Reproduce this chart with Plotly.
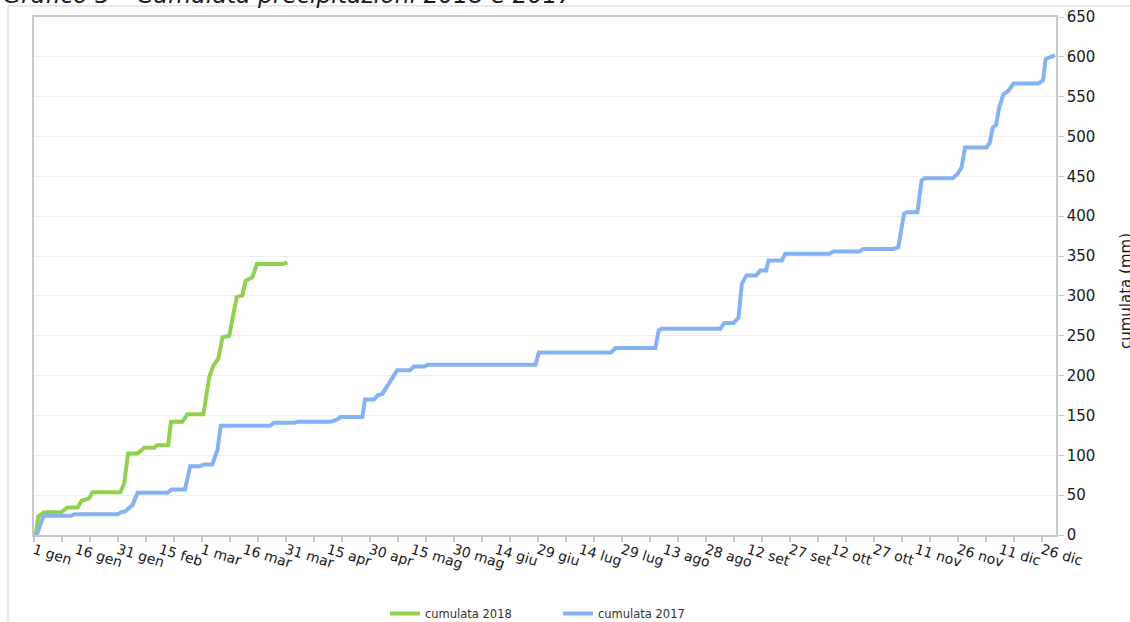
import plotly.graph_objects as go

# Day of year (0 = 1 gennaio) and cumulative precipitation (mm)
days_2018 = [0, 0.7, 1.5, 3.5, 9.6, 12, 15.6, 17, 19.7, 20.9, 30.8, 32.2, 33.6, 37, 39.4, 42.9,
             44, 47.9, 48.9, 53, 54.8, 60.5, 62.6, 64.1, 65.8, 67.3, 69.7, 72.4, 74.4, 75.6,
             78, 79.6, 88.7, 90.5]
cum_2018 = [0, 2, 23, 28.4, 28.4, 34.6, 34.6, 43, 46, 53.5, 53.5, 64.7, 102.3, 102.3, 109.4, 109.4,
            112.7, 112.7, 142, 142, 151.5, 151.5, 198, 213, 221, 248, 250, 298.5, 300.6, 319,
            323.5, 340, 340, 342]

days_2017 = [0, 1, 3.4, 13.2, 14.4, 29.9, 31.3, 32.5, 35.2, 37, 47.7, 49.1, 53.9, 55.8, 59, 61,
             63.7, 65.5, 66.7, 84.3, 85.7, 92.9, 94.1, 106, 108.3, 109.5, 117.3, 118.2, 121.4,
             122.8, 124.4, 125.8, 129.7, 134.2, 135.7, 139.5, 140.5, 179.1, 180.3, 206.1, 207.6,
             221.9, 223.1, 224.3, 245.1, 246.5, 249.8, 251.6, 252.8, 254.4, 257.9, 259.4, 261.5,
             262.3, 267.1, 268.3, 284.1, 285.5, 294.8, 296.2, 306.9, 308.7, 310.7, 311.7, 315.5,
             317, 318.2, 328.1, 329.8, 331.3, 332.5, 340.2, 341.4, 342.4, 343.6, 344.7, 346.2,
             348, 349.8, 358.7, 360.4, 361.3, 363.4, 364.6]
cum_2017 = [0, 0, 24, 24, 26, 26, 29, 29.5, 37.6, 53, 53, 57.2, 57.2, 86.4, 86.4, 88.5,
            88.5, 106.5, 137, 137, 140.7, 140.7, 142, 142, 145, 148, 148, 170, 170,
            175.3, 177, 184.5, 206.6, 206.6, 211.5, 211.5, 213.5, 213.5, 229, 229, 234.6,
            234.6, 256.7, 258.8, 258.8, 265.9, 265.9, 272.6, 315.2, 325.6, 325.6, 331.9, 331.9,
            344.4, 344.4, 353, 353, 355.7, 355.7, 359, 359, 361, 403, 405, 405,
            445, 447.8, 447.8, 453, 461.3, 486.3, 486.3, 492.6, 511.4, 514.3, 536.4, 553,
            557.3, 566.5, 566.5, 570.7, 597, 601, 602]

tick_days = [0, 15, 30, 45, 60, 75, 90, 105, 120, 135, 150, 165, 180, 195, 210, 225, 240,
             255, 270, 285, 300, 315, 330, 345, 360]
tick_labels = ["1 gen", "16 gen", "31 gen", "15 feb", "1 mar", "16 mar", "31 mar", "15 apr",
               "30 apr", "15 mag", "30 mag", "14 giu", "29 giu", "14 lug", "29 lug", "13 ago",
               "28 ago", "12 set", "27 set", "12 ott", "27 ott", "11 nov", "26 nov", "11 dic",
               "26 dic"]
minor_tick_days = list(range(0, 366, 10))

title_text = "Grafico 3 – Cumulata precipitazioni 2018 e 2017"
y_title = "cumulata (mm)"

FONT = "DejaVu Sans, Verdana, sans-serif"
L, R, T, B = 34, 1056, 17, 535
W, H = 1130, 622
pw, ph = R - L, B - T

def px(x):
    return (x - L) / pw

def py(y):
    return (B - y) / ph

fig = go.Figure()
fig.add_trace(go.Scatter(x=days_2018, y=cum_2018, mode="lines", name="cumulata 2018",
                         line=dict(color="#92D050", width=4)))
fig.add_trace(go.Scatter(x=days_2017, y=cum_2017, mode="lines", name="cumulata 2017",
                         line=dict(color="#84B2F2", width=4)))

fig.update_layout(
    width=W, height=H,
    margin=dict(l=L, r=W - R, t=T, b=H - B, pad=0, autoexpand=False),
    paper_bgcolor="white", plot_bgcolor="white",
    font=dict(family=FONT, color="#1a1a1a", size=13),
    showlegend=True,
    legend=dict(orientation="h", x=px(385), xanchor="left", y=py(599), yanchor="top",
                font=dict(size=11.5, color="#333333"), entrywidth=128,
                itemwidth=30, bgcolor="rgba(0,0,0,0)"),
    xaxis=dict(range=[0, 365], tickmode="array", tickvals=tick_days, ticktext=tick_labels,
               tickangle=17, ticks="", showgrid=False, zeroline=False,
               showline=True, linecolor="#c8c8c8", linewidth=1.5, mirror=True,
               tickfont=dict(size=14, color="#1a1a1a"),
               minor=dict(tickmode="array", tickvals=minor_tick_days, ticks="outside",
                          ticklen=5, tickcolor="#c8c8c8", tickwidth=1.5, showgrid=False)),
    yaxis=dict(range=[0, 650], dtick=50, side="right", showgrid=True, gridcolor="#eeeeee",
               gridwidth=1, zeroline=False, showline=True, linecolor="#c8c8c8",
               linewidth=1.5, mirror=True, ticks="outside", ticklen=6, tickcolor="#c8c8c8",
               tickfont=dict(size=15, color="#1a1a1a")),
)

# outer chart frame
fig.add_shape(type="rect", xref="paper", yref="paper",
              x0=px(8), x1=px(1140), y0=py(630), y1=py(6),
              line=dict(color="#d0d0d0", width=1), fillcolor="rgba(0,0,0,0)", layer="below")

fig.add_annotation(text=title_text, xref="paper", yref="paper", x=px(1), y=py(11),
                   xanchor="left", yanchor="bottom", showarrow=False,
                   font=dict(family=FONT, size=23.5, color="#1a1a1a", style="italic"))
fig.add_annotation(text=y_title, xref="paper", yref="paper", x=px(1115), y=py(291),
                   xanchor="left", yanchor="middle", textangle=-90, showarrow=False,
                   font=dict(family=FONT, size=15, color="#1a1a1a"))

fig.write_html("out.html", post_script="document.body.style.margin='0';",
               config={"displayModeBar": False})
